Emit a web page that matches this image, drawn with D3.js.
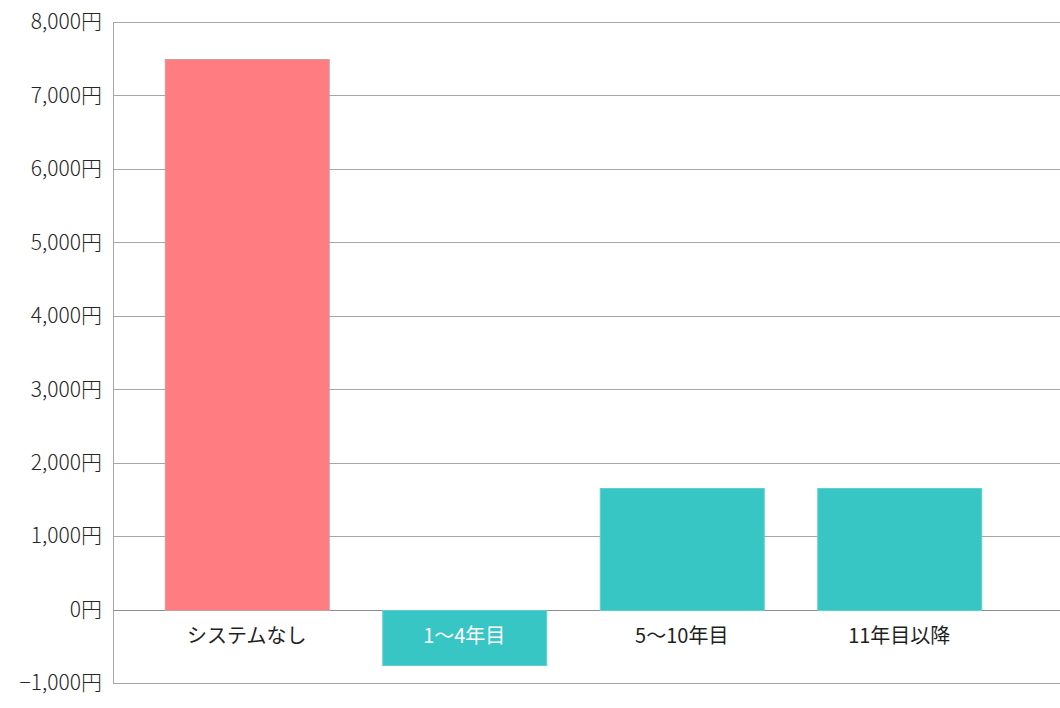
<!DOCTYPE html>
<html><head><meta charset="utf-8">
<script src="https://cdn.jsdelivr.net/npm/d3@7"></script>
<style>
body{margin:0;background:#fff;}
text{font-family:"Noto Sans CJK JP","Noto Sans",sans-serif;}
</style></head>
<body><svg id="c" width="1060" height="708"></svg>
<script>
const categories = ["システムなし","1〜4年目","5〜10年目","11年目以降"];
const values = [7500, -750, 1660, 1660];
const barColors = ["#FF7C80","#38C6C4","#38C6C4","#38C6C4"];
const tickValues = [-1000,0,1000,2000,3000,4000,5000,6000,7000,8000];

const svg = d3.select("#c");
const y = d3.scaleLinear().domain([-1000,8000]).range([683,22]);
const x = d3.scaleBand().domain(categories).range([138,1008]).paddingInner(0.246).paddingOuter(0.123);

// gridlines
svg.append("g").selectAll("line").data(tickValues).join("line")
  .attr("x1",113).attr("x2",1060)
  .attr("y1",d=>Math.round(y(d))+0.5).attr("y2",d=>Math.round(y(d))+0.5)
  .attr("stroke",d=>d===0?"#8c8c8c":"#a6a6a6").attr("stroke-width",1);

// y axis line
svg.append("line").attr("x1",113.5).attr("x2",113.5).attr("y1",y(8000)).attr("y2",y(-1000))
  .attr("stroke","#a6a6a6");

// tick labels
const fmt = d3.format(",");
svg.append("g").selectAll("text").data(tickValues).join("text")
  .attr("x",102).attr("y",d=>y(d)).attr("dy","0.35em")
  .attr("text-anchor","end").attr("font-size",21).attr("font-weight",300).attr("fill","#262626")
  .text(d=>fmt(d)+"円");

// bars
svg.append("g").selectAll("rect").data(values).join("rect")
  .attr("x",(d,i)=>x(categories[i])+0.5)
  .attr("y",d=>Math.round(y(Math.max(0,d)))+0.5)
  .attr("width",x.bandwidth())
  .attr("height",d=>Math.abs(Math.round(y(d))-Math.round(y(0))))
  .attr("fill",(d,i)=>barColors[i])
  .attr("stroke",(d,i)=>i===0?"#c8a0a2":"#5fcfcd").attr("stroke-width",1);

// category labels
svg.append("g").selectAll("text").data(categories).join("text")
  .attr("x",d=>x(d)+x.bandwidth()/2).attr("y",636).attr("dy","0.35em")
  .attr("text-anchor","middle").attr("font-size",20).attr("font-weight",400)
  .attr("fill",(d,i)=>values[i]<0?"#ffffff":"#1f1f1f")
  .text(d=>d);
</script></body></html>
